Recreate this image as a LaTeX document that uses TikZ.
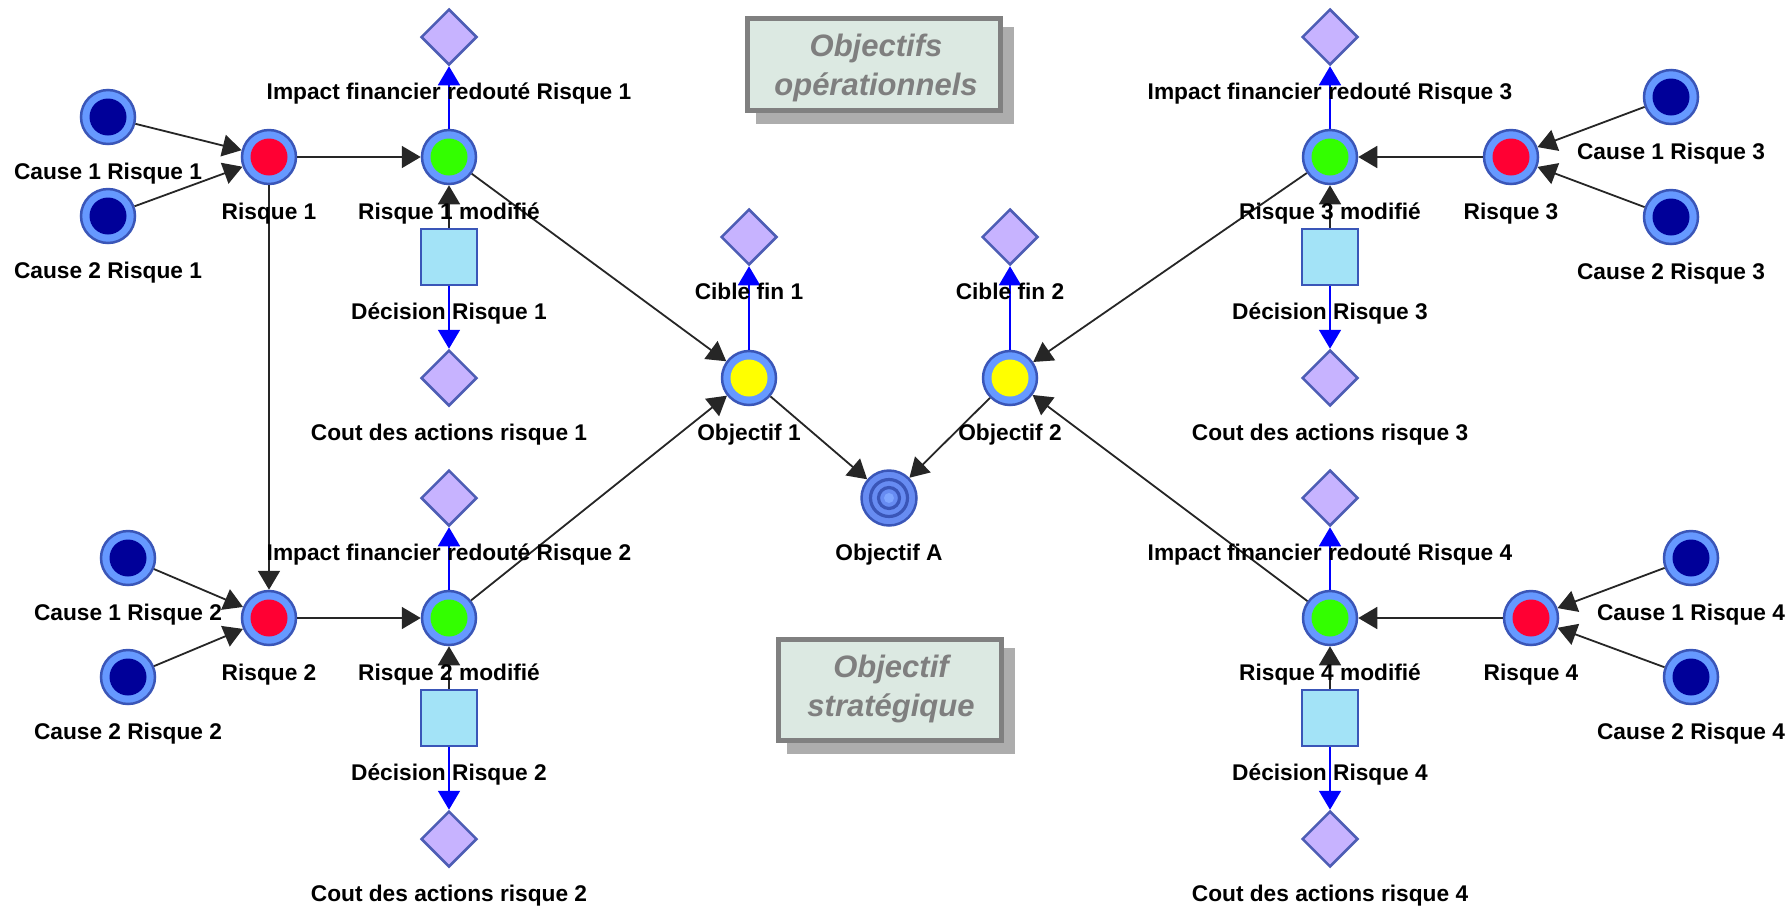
\documentclass[tikz,border=0pt]{standalone}
\usepackage{fontspec}
\setmainfont{Liberation Sans}
\usetikzlibrary{shapes.geometric,arrows.meta}
\definecolor{ringblue}{HTML}{6699FF}
\definecolor{edgeblue}{HTML}{3A56B8}
\definecolor{navy}{HTML}{000099}
\definecolor{rred}{HTML}{FF0033}
\definecolor{rgreen}{HTML}{33FF00}
\definecolor{ryellow}{HTML}{FFFF00}
\definecolor{lav}{HTML}{C7B3FF}
\definecolor{lavedge}{HTML}{4D5DB5}
\definecolor{sqfill}{HTML}{A3E3F7}
\definecolor{boxfill}{HTML}{DCE9E2}
\definecolor{boxedge}{HTML}{808080}
\definecolor{shadowgray}{HTML}{ADADAD}
\definecolor{txtgray}{HTML}{7F7F7F}
\definecolor{tgtfill}{HTML}{678CF2}
\definecolor{tgtlight}{HTML}{7FA6FF}
\newcommand\mylab[3]{\node[lbl] (#1) at ([yshift=-62pt]#2.center) {#3};}
\begin{document}
\begin{tikzpicture}[x=1pt,y=-1pt,
  dot/.style={circle,minimum size=54pt,inner sep=0pt,fill=ringblue,draw=edgeblue,line width=2.5pt,
    path picture={\fill[#1] (path picture bounding box.center) circle[radius=18.5pt];}},
  target/.style={circle,minimum size=55pt,inner sep=0pt,fill=tgtfill,draw=edgeblue,line width=2.5pt,
    path picture={\draw[edgeblue,line width=3.2pt] (path picture bounding box.center) circle[radius=18.5pt];
      \draw[edgeblue,line width=3.2pt] (path picture bounding box.center) circle[radius=10.5pt];
      \fill[tgtlight] (path picture bounding box.center) circle[radius=5pt];}},
  dia/.style={diamond,minimum width=56pt,minimum height=56pt,inner sep=0pt,fill=lav,draw=lavedge,line width=2.5pt},
  sq/.style={rectangle,minimum width=56pt,minimum height=56pt,inner sep=0pt,fill=sqfill,draw=edgeblue,line width=2.5pt},
  lbl/.style={anchor=base,inner sep=0pt,font=\bfseries\fontsize{22.7}{26}\selectfont},
  blk/.style={draw=black!85,line width=1.8pt,-{Triangle[length=19pt,width=22pt]}},
  blu/.style={draw=blue,line width=1.8pt,-{Triangle[length=19pt,width=22pt]}},
  tbox/.style={rectangle,inner sep=0pt,fill=boxfill,draw=boxedge,line width=5pt,
    preaction={draw=shadowgray,fill=shadowgray,line width=5pt,transform canvas={shift={(11pt,-11pt)}}}},
  ttxt/.style={align=center,inner sep=0pt,text=txtgray,font=\bfseries\itshape\fontsize{31}{39}\selectfont}
]
\useasboundingbox (0,0) rectangle (1791,906);
\fill[white] (0,0) rectangle (1791,906);

% text boxes
\node[tbox,minimum width=253pt,minimum height=92pt] (opbox) at (874,64.5) {};
\node[ttxt] (optxt) at (876,68) {Objectifs\\opérationnels};
\node[tbox,minimum width=223pt,minimum height=101pt] (stbox) at (890,690) {};
\node[ttxt] (sttxt) at (891,689) {Objectif\\stratégique};

% risk 1
\node[dot=navy] (c11) at (108,117) {};
\node[dot=navy] (c21) at (108,216) {};
\node[dot=rred] (r1) at (269,157) {};
\node[dot=rgreen] (r1m) at (449,157) {};
\node[dia] (i1) at (449,37) {};
\node[sq] (d1) at (449,257) {};
\node[dia] (k1) at (449,378) {};
% risk 2
\node[dot=navy] (c12) at (128,558) {};
\node[dot=navy] (c22) at (128,677) {};
\node[dot=rred] (r2) at (269,618) {};
\node[dot=rgreen] (r2m) at (449,618) {};
\node[dia] (i2) at (449,498) {};
\node[sq] (d2) at (449,718) {};
\node[dia] (k2) at (449,839) {};
% objectives
\node[dot=ryellow] (o1) at (749,378) {};
\node[dia] (t1) at (749,237) {};
\node[target] (oa) at (889,498) {};
\node[dot=ryellow] (o2) at (1010,378) {};
\node[dia] (t2) at (1010,237) {};
% risk 3
\node[dot=rgreen] (r3m) at (1330,157) {};
\node[dot=rred] (r3) at (1511,157) {};
\node[dot=navy] (c13) at (1671,97) {};
\node[dot=navy] (c23) at (1671,217) {};
\node[dia] (i3) at (1330,37) {};
\node[sq] (d3) at (1330,257) {};
\node[dia] (k3) at (1330,378) {};
% risk 4
\node[dot=rgreen] (r4m) at (1330,618) {};
\node[dot=rred] (r4) at (1531,618) {};
\node[dot=navy] (c14) at (1691,558) {};
\node[dot=navy] (c24) at (1691,677) {};
\node[dia] (i4) at (1330,498) {};
\node[sq] (d4) at (1330,718) {};
\node[dia] (k4) at (1330,839) {};

% connectors
\draw[blk] (c11) -- (r1);
\draw[blk] (c21) -- (r1);
\draw[blk] (r1) -- (r1m);
\draw[blk] (r1) -- (r2);
\draw[blu] (r1m) -- (i1);
\draw[blk] (d1) -- (r1m);
\draw[blu] (d1) -- (k1);
\draw[blk] (r1m) -- (o1);
\draw[blk] (c12) -- (r2);
\draw[blk] (c22) -- (r2);
\draw[blk] (r2) -- (r2m);
\draw[blu] (r2m) -- (i2);
\draw[blk] (d2) -- (r2m);
\draw[blu] (d2) -- (k2);
\draw[blk] (r2m) -- (o1);
\draw[blu] (o1) -- (t1);
\draw[blk] (o1) -- (oa);
\draw[blu] (o2) -- (t2);
\draw[blk] (o2) -- (oa);
\draw[blk] (c13) -- (r3);
\draw[blk] (c23) -- (r3);
\draw[blk] (r3) -- (r3m);
\draw[blu] (r3m) -- (i3);
\draw[blk] (d3) -- (r3m);
\draw[blu] (d3) -- (k3);
\draw[blk] (r3m) -- (o2);
\draw[blk] (c14) -- (r4);
\draw[blk] (c24) -- (r4);
\draw[blk] (r4) -- (r4m);
\draw[blu] (r4m) -- (i4);
\draw[blk] (d4) -- (r4m);
\draw[blu] (d4) -- (k4);
\draw[blk] (r4m) -- (o2);

% labels
\mylab{lc11}{c11}{Cause 1 Risque 1}
\mylab{lc21}{c21}{Cause 2 Risque 1}
\mylab{lr1}{r1}{Risque 1}
\mylab{lr1m}{r1m}{Risque 1 modifié}
\mylab{li1}{i1}{Impact financier redouté Risque 1}
\mylab{ld1}{d1}{Décision Risque 1}
\mylab{lk1}{k1}{Cout des actions risque 1}
\mylab{lc12}{c12}{Cause 1 Risque 2}
\mylab{lc22}{c22}{Cause 2 Risque 2}
\mylab{lr2}{r2}{Risque 2}
\mylab{lr2m}{r2m}{Risque 2 modifié}
\mylab{li2}{i2}{Impact financier redouté Risque 2}
\mylab{ld2}{d2}{Décision Risque 2}
\mylab{lk2}{k2}{Cout des actions risque 2}
\mylab{lo1}{o1}{Objectif 1}
\mylab{lt1}{t1}{Cible fin 1}
\mylab{loa}{oa}{Objectif A}
\mylab{lo2}{o2}{Objectif 2}
\mylab{lt2}{t2}{Cible fin 2}
\mylab{lc13}{c13}{Cause 1 Risque 3}
\mylab{lc23}{c23}{Cause 2 Risque 3}
\mylab{lr3}{r3}{Risque 3}
\mylab{lr3m}{r3m}{Risque 3 modifié}
\mylab{li3}{i3}{Impact financier redouté Risque 3}
\mylab{ld3}{d3}{Décision Risque 3}
\mylab{lk3}{k3}{Cout des actions risque 3}
\mylab{lc14}{c14}{Cause 1 Risque 4}
\mylab{lc24}{c24}{Cause 2 Risque 4}
\mylab{lr4}{r4}{Risque 4}
\mylab{lr4m}{r4m}{Risque 4 modifié}
\mylab{li4}{i4}{Impact financier redouté Risque 4}
\mylab{ld4}{d4}{Décision Risque 4}
\mylab{lk4}{k4}{Cout des actions risque 4}
\end{tikzpicture}
\end{document}
